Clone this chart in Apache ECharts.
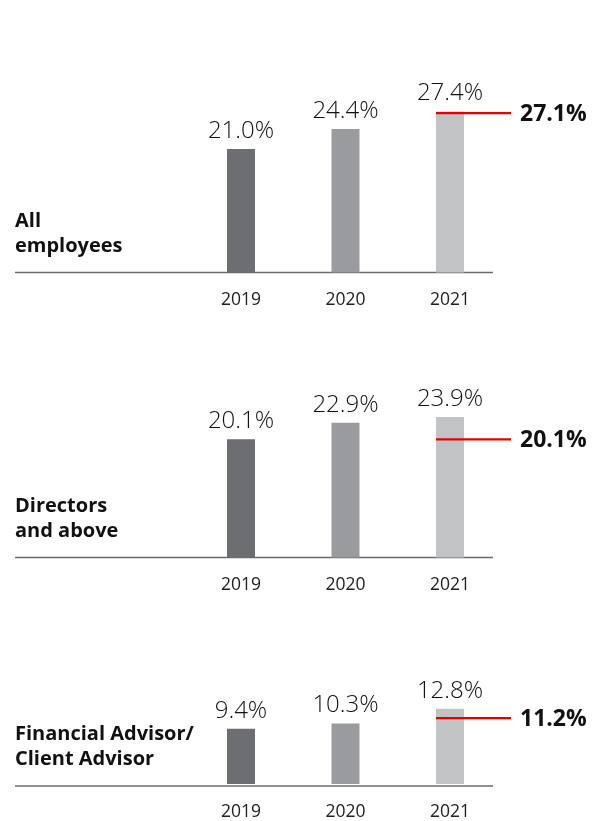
<!DOCTYPE html>
<html>
<head>
<meta charset="utf-8">
<script src="https://cdn.jsdelivr.net/npm/echarts@6/dist/echarts.min.js"></script>
<style>
  html, body { margin: 0; padding: 0; background: #fff; }
  #chart { width: 601px; height: 821px; }
</style>
</head>
<body>
<div id="chart"></div>
<script>
// data
const years = ['2019', '2020', '2021']
const panelNames = ['All\nemployees', 'Directors\nand above', 'Financial Advisor/\nClient Advisor']
const allEmployees = [21.0, 24.4, 27.4]
const directorsAbove = [20.1, 22.9, 23.9]
const advisors = [9.4, 10.3, 12.8]
const targets = [27.1, 20.1, 11.2]

const panelValues = [allEmployees, directorsAbove, advisors]

// layout / style
const barColors = ['#6d6e71', '#9a9b9e', '#c2c3c5']
const red = '#e60000'
const font = 'Open Sans'
const baselines = [272.5, 557.5, 786]
const pxPerPct = [5.88, 5.88, 5.95]
const yMax = 30
const gridLeft = 188.75
const gridWidth = 313.5

const chart = echarts.init(document.getElementById('chart'))

const grid = [], xAxis = [], yAxis = [], series = [], title = [], graphic = []

panelValues.forEach((values, i) => {
  const h = pxPerPct[i] * yMax
  grid.push({ left: gridLeft, width: gridWidth, top: baselines[i] - h, height: h })
  xAxis.push({
    type: 'category', gridIndex: i, data: years,
    axisLine: { show: false }, axisTick: { show: false },
    axisLabel: { color: '#222', fontSize: 17.5, fontFamily: font, margin: 19 }
  })
  yAxis.push({ type: 'value', gridIndex: i, min: 0, max: yMax, show: false })

  series.push({
    type: 'bar', xAxisIndex: i, yAxisIndex: i, barWidth: 28, z: 2,
    data: values.map((v, j) => ({ value: v, itemStyle: { color: barColors[j] } })),
    label: {
      show: true, position: 'top', distance: 6,
      formatter: p => p.value.toFixed(1) + '%',
      color: '#111', fontSize: 24, fontFamily: font, fontWeight: 300
    },
    silent: true
  })

  // target line on the 2021 bar
  series.push({
    type: 'custom', xAxisIndex: i, yAxisIndex: i, clip: false, silent: true, z: 5,
    data: [[2, targets[i]]],
    renderItem: (params, api) => {
      const pt = api.coord([api.value(0), api.value(1)])
      return {
        type: 'group',
        children: [
          { type: 'line', shape: { x1: pt[0] - 14, y1: pt[1], x2: pt[0] + 61, y2: pt[1] },
            style: { stroke: red, lineWidth: 2.2 } },
          { type: 'text', x: pt[0] + 70, y: pt[1] + 1,
            style: { text: api.value(1).toFixed(1) + '%', fill: '#111', font: 'bold 23px "Open Sans"',
                     textAlign: 'left', textVerticalAlign: 'middle' } }
        ]
      }
    }
  })

  title.push({
    text: panelNames[i], left: 15, top: baselines[i] - 64, padding: 0,
    textStyle: { color: '#111', fontSize: 20, fontWeight: 'bold', fontFamily: font, lineHeight: 25 }
  })

  graphic.push({
    type: 'line', silent: true,
    shape: { x1: 15, y1: baselines[i], x2: 493, y2: baselines[i] },
    style: { stroke: '#6b6b6b', lineWidth: 1.5 }
  })
})

chart.setOption({ animation: false, title, grid, xAxis, yAxis, series, graphic })
</script>
</body>
</html>
